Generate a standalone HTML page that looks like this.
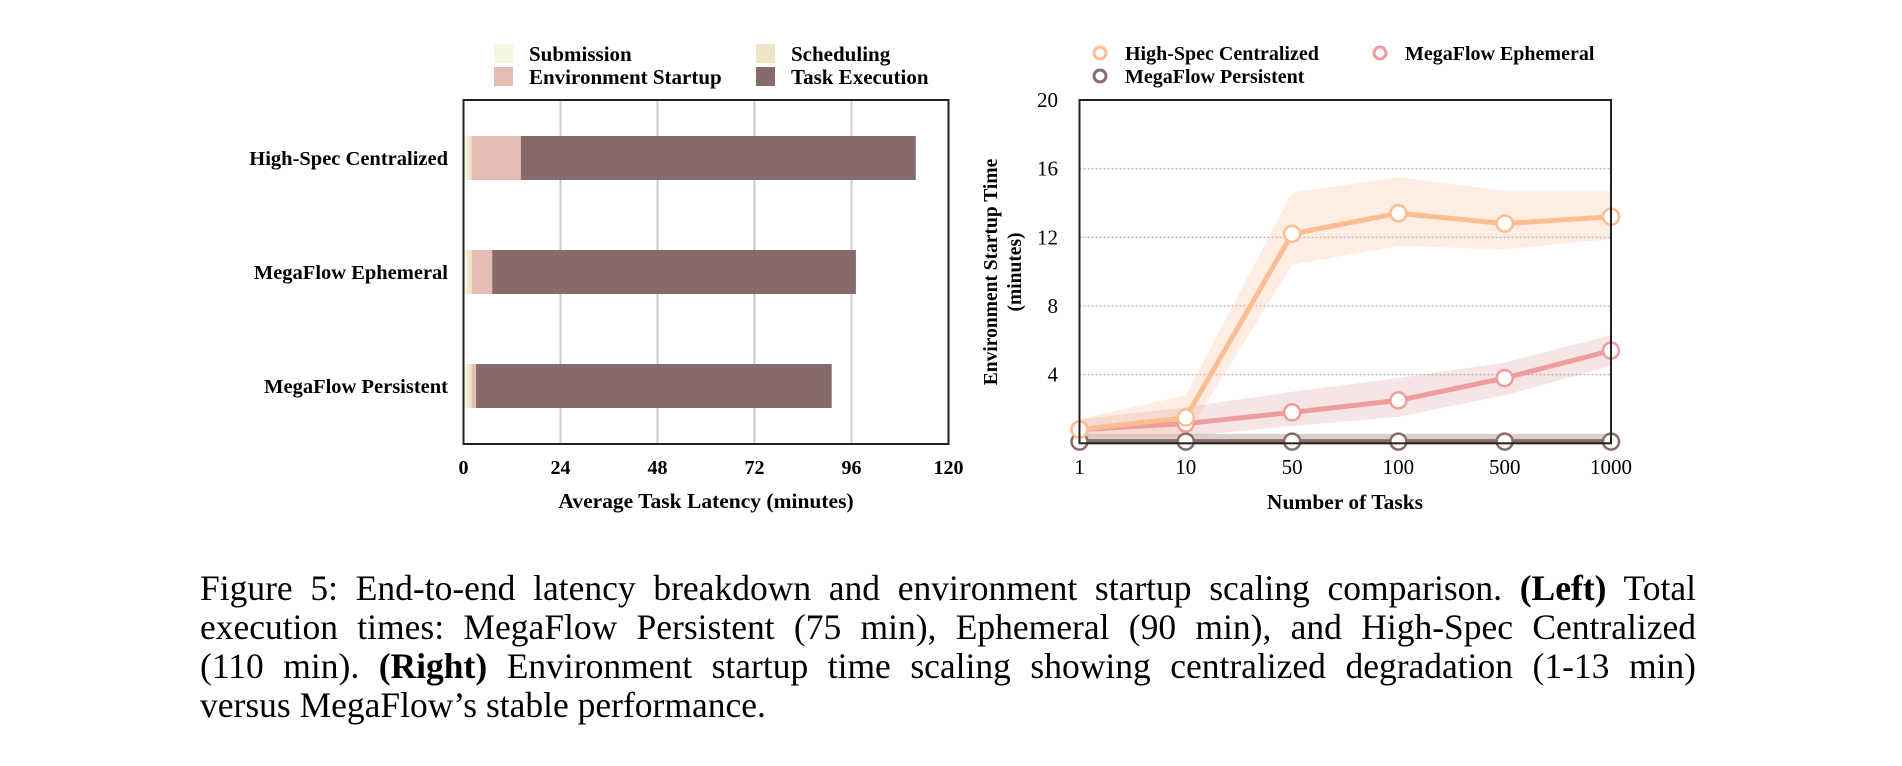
<!DOCTYPE html>
<html><head><meta charset="utf-8">
<style>
html,body{margin:0;padding:0;background:#fff;}
body{width:1902px;height:766px;position:relative;overflow:hidden;font-family:"Liberation Serif",serif;}
#caption{position:absolute;left:200px;top:569px;width:1496px;font-size:35.5px;line-height:39px;text-align:justify;color:#000;}
svg{position:absolute;left:0;top:0;}
</style></head><body>
<svg id="chart" width="1902" height="560" font-family="Liberation Serif, serif"></svg>
<div id="caption">Figure 5: End-to-end latency breakdown and environment startup scaling comparison. <b>(Left)</b> Total execution times: MegaFlow Persistent (75 min), Ephemeral (90 min), and High-Spec Centralized (110&nbsp;min). <b>(Right)</b> Environment startup time scaling showing centralized degradation (1-13&nbsp;min) versus&nbsp;MegaFlow’s stable performance.</div>
<script>
// Left chart data
const barCategories = ["High-Spec Centralized","MegaFlow Ephemeral","MegaFlow Persistent"];
const submission = [1.0, 1.0, 1.0];
const scheduling = [1.0, 1.1, 1.0];
const envStartup = [12.2, 5.0, 1.1];
const taskExecution = [97.7, 90.0, 88.0];
const barTicks = [0,24,48,72,96,120];
// Right chart data
const taskCounts = ["1","10","50","100","500","1000"];
const hsMean = [0.8,1.5,12.2,13.4,12.8,13.2];
const hsUpper = [1.4,2.8,14.6,15.5,14.7,14.7];
const hsLower = [0.4,0.4,10.4,11.5,11.3,11.9];
const ephMean = [0.8,1.15,1.8,2.5,3.8,5.4];
const ephUpper = [1.4,2.1,3.0,3.8,4.7,6.3];
const ephLower = [0.4,0.4,1.0,1.55,2.8,4.5];
const perMean = [0.1,0.1,0.1,0.1,0.1,0.1];
const perUpper = [0.55,0.55,0.55,0.55,0.55,0.55];
const perLower = [0,0,0,0,0,0];
const lineTicks = [4,8,12,16,20];

const NS="http://www.w3.org/2000/svg";
const svg=document.getElementById('chart');
function mk(tag,attrs,parent,text){const e=document.createElementNS(NS,tag);for(const k in attrs)e.setAttribute(k,attrs[k]);if(text!==undefined)e.textContent=text;(parent||svg).appendChild(e);return e;}

// ---- Left chart ----
const L={x0:463.5,x1:948.5,y0:100,y1:444,max:120};
const bx=v=>L.x0+(v/L.max)*(L.x1-L.x0);
const rowY=[158,272,386], barH=44;
const gL=mk('g',{});


barTicks.forEach(t=>{
  if(t>0&&t<L.max){const g=mk('line',{x1:bx(t),x2:bx(t),y1:L.y0,y2:L.y1,stroke:'#cccccc','stroke-width':2},gL);
  }
  const tl=mk('text',{x:bx(t),y:474,'text-anchor':'middle','font-size':20,'font-weight':'bold'},gL,String(t));
  
});
const segColors=['#f5f7e1','#efe4c6','#e4bcb4','#876b6b'];
const segNames=['submission','scheduling','env-startup','task-execution'];
const series=[submission,scheduling,envStartup,taskExecution];
barCategories.forEach((c,i)=>{
  let acc=0;
  series.forEach((s,j)=>{
    const r=mk('rect',{x:bx(acc),y:rowY[i]-barH/2,width:bx(acc+s[i])-bx(acc),height:barH,fill:segColors[j]},gL);
    
    acc+=s[i];
  });
  const lt=mk('text',{x:448,y:rowY[i]+7,'text-anchor':'end','font-size':20.5,'font-weight':'bold'},gL,c);
  
});
const fr=mk('rect',{x:L.x0,y:L.y0,width:L.x1-L.x0,height:L.y1-L.y0,fill:'none',stroke:'#222','stroke-width':2},gL);

const xt=mk('text',{x:706,y:508,'text-anchor':'middle','font-size':21.5,'font-weight':'bold'},gL,'Average Task Latency (minutes)');

// legend
const legL=[['Submission',494,44],['Scheduling',756,44],['Environment Startup',494,67],['Task Execution',756,67]];
const legC=[segColors[0],segColors[1],segColors[2],segColors[3]];
legL.forEach((l,i)=>{
  const r=mk('rect',{x:l[1],y:l[2],width:19,height:19,fill:legC[i]},gL);
  
  const t=mk('text',{x:l[1]+35,y:l[2]+17,'font-size':21,'font-weight':'bold'},gL,l[0]);
  
});

// ---- Right chart ----
const R={x0:1079.5,x1:1611,y0:100,y1:443.3,max:20};
const px=i=>R.x0+i*(R.x1-R.x0)/(taskCounts.length-1);
const py=v=>R.y1-(v/R.max)*(R.y1-R.y0);
const gR=mk('g',{});


lineTicks.forEach(t=>{
  if(t<R.max){const g=mk('line',{x1:R.x0,x2:R.x1,y1:py(t),y2:py(t),stroke:'#bbbbbb','stroke-width':1.5,'stroke-dasharray':'2,2'},gR);
  }
  const tl=mk('text',{x:1058,y:py(t)+7,'text-anchor':'end','font-size':21},gR,String(t));
  
});
taskCounts.forEach((c,i)=>{
  const tl=mk('text',{x:px(i),y:474,'text-anchor':'middle','font-size':21},gR,c);
  
});
const lineSeries=[
  {name:'megaflow-persistent',mean:perMean,up:perUpper,lo:perLower,col:'#8a6b6b',band:'rgba(138,107,107,0.32)'},
  {name:'megaflow-ephemeral',mean:ephMean,up:ephUpper,lo:ephLower,col:'#ef9c9c',band:'rgba(220,150,150,0.25)'},
  {name:'high-spec-centralized',mean:hsMean,up:hsUpper,lo:hsLower,col:'#fdbd92',band:'rgba(253,190,150,0.28)'}
];
lineSeries.forEach(s=>{
  let d='';s.up.forEach((v,i)=>{d+=(i?'L':'M')+px(i)+','+py(v);});
  for(let i=s.lo.length-1;i>=0;i--)d+='L'+px(i)+','+py(s.lo[i]);
  const b=mk('path',{d:d+'Z',fill:s.band},gR);
  
});
lineSeries.forEach(s=>{
  const pts=s.mean.map((v,i)=>px(i)+','+py(v)).join(' ');
  const l=mk('polyline',{points:pts,fill:'none',stroke:s.col,'stroke-width':5,'stroke-linejoin':'round'},gR);
  
  s.mean.forEach((v,i)=>{
    const c=mk('circle',{cx:px(i),cy:py(v),r:8,fill:'#fff',stroke:s.col,'stroke-width':2.5},gR);
    
  });
});
const fr2=mk('rect',{x:R.x0,y:R.y0,width:R.x1-R.x0,height:R.y1-R.y0,fill:'none',stroke:'#222','stroke-width':2},gR);

const yt=mk('text',{transform:'translate(997,272) rotate(-90)','text-anchor':'middle','font-size':19.5,'font-weight':'bold'},gR,'Environment Startup Time');

const yt2=mk('text',{transform:'translate(1021,272) rotate(-90)','text-anchor':'middle','font-size':19.5,'font-weight':'bold'},gR,'(minutes)');

const xt2=mk('text',{x:1345,y:509,'text-anchor':'middle','font-size':21.5,'font-weight':'bold'},gR,'Number of Tasks');

const legR=[['High-Spec Centralized',1100,53,'#fdbd92'],['MegaFlow Ephemeral',1380,53,'#ef9c9c'],['MegaFlow Persistent',1100,76,'#8a6b6b']];
legR.forEach(l=>{
  const c=mk('circle',{cx:l[1],cy:l[2],r:6,fill:'#fff',stroke:l[3],'stroke-width':3},gR);
  
  const t=mk('text',{x:l[1]+25,y:l[2]+7,'font-size':20,'font-weight':'bold'},gR,l[0]);
  
});
</script>
</body></html>
